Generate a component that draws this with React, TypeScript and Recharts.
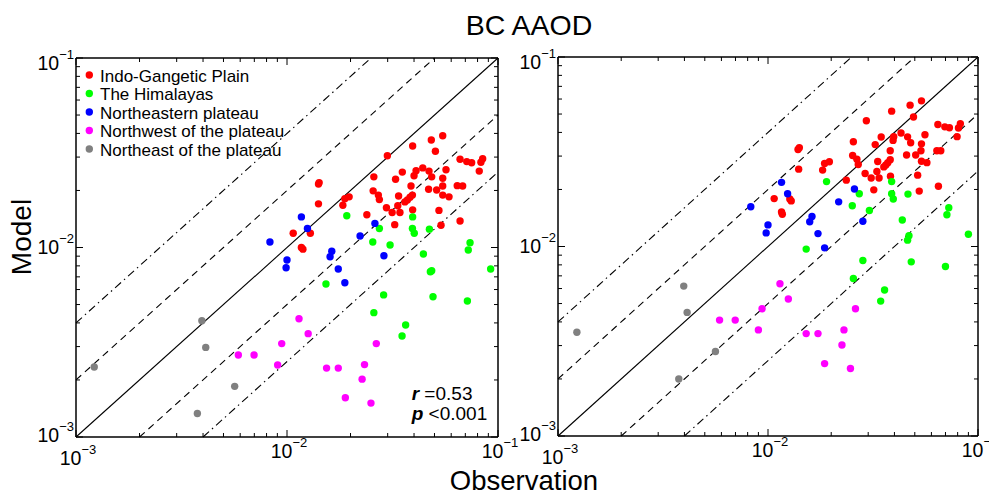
import React from 'react';
import { ScatterChart, Scatter, XAxis, YAxis, ReferenceLine } from 'recharts';

const FONT = '"Liberation Sans", Arial, Helvetica, sans-serif';

// ---------- tick values (log axes) ----------
const LOG_TICKS = [
  0.001, 0.002, 0.003, 0.004, 0.005, 0.006, 0.007, 0.008, 0.009,
  0.01, 0.02, 0.03, 0.04, 0.05, 0.06, 0.07, 0.08, 0.09, 0.1,
];
const DOMAIN: [number, number] = [0.001, 0.1];

// ---------- legend / series ----------
const seriesNames = [
  'Indo-Gangetic Plain',
  'The Himalayas',
  'Northeastern plateau',
  'Northwest of the plateau',
  'Northeast of the plateau',
];
const seriesColors = ['#ff0000', '#00ff00', '#0000ff', '#ff00ff', '#808080'];

// ---------- left panel: [observation, model] ----------
const igpA: [number, number][] = [
  [0.0547, 0.0389], [0.0483, 0.0369], [0.0394, 0.0343], [0.0505, 0.0322], [0.0299, 0.0305],
  [0.0661, 0.0292], [0.0711, 0.0284], [0.075, 0.028], [0.0846, 0.0294], [0.083, 0.0282],
  [0.0815, 0.0253], [0.044, 0.0263], [0.0409, 0.0254], [0.0471, 0.0253], [0.0567, 0.0257],
  [0.0352, 0.025], [0.04, 0.0239], [0.0485, 0.0236], [0.0547, 0.0232], [0.0327, 0.0229],
  [0.0258, 0.0236], [0.0142, 0.022], [0.0141, 0.0216], [0.0387, 0.0211], [0.0469, 0.0203],
  [0.0512, 0.0201], [0.0547, 0.0211], [0.0641, 0.0212], [0.068, 0.0211], [0.0256, 0.0199],
  [0.0271, 0.0189], [0.0274, 0.0179], [0.0338, 0.0187], [0.0393, 0.0189], [0.0383, 0.0184],
  [0.0372, 0.0178], [0.0362, 0.0174], [0.0547, 0.0189], [0.0586, 0.0185], [0.0197, 0.0185],
  [0.0188, 0.0181], [0.0184, 0.0167], [0.0141, 0.017], [0.0335, 0.0166], [0.0296, 0.0162],
  [0.0315, 0.0153], [0.0343, 0.0153], [0.0394, 0.0158], [0.0525, 0.0157], [0.0239, 0.0149],
  [0.0324, 0.0132], [0.0537, 0.0131], [0.0661, 0.0138], [0.0107, 0.0119], [0.0129, 0.0119],
  [0.0117, 0.01], [0.0119, 0.0098],
];
const himA: [number, number][] = [
  [0.0192, 0.0147], [0.0394, 0.0145], [0.0274, 0.0126], [0.0393, 0.0126], [0.0401, 0.0119],
  [0.0473, 0.0125], [0.0255, 0.0107], [0.0308, 0.0103], [0.0443, 0.00924], [0.0737, 0.0106],
  [0.0723, 0.0097], [0.0478, 0.00745], [0.0485, 0.00755], [0.0923, 0.0077], [0.0153, 0.00642],
  [0.0287, 0.00562], [0.0492, 0.0055], [0.0716, 0.00522], [0.0258, 0.00453], [0.0365, 0.0039],
  [0.0351, 0.00341],
];
const nepA: [number, number][] = [
  [0.0117, 0.0145], [0.0125, 0.0126], [0.0261, 0.0134], [0.0222, 0.0115], [0.0083, 0.0107],
  [0.01, 0.00859], [0.0099, 0.00782], [0.0163, 0.00955], [0.016, 0.00894], [0.0175, 0.0077],
  [0.0188, 0.00652], [0.0288, 0.00905],
];
const nwA: [number, number][] = [
  [0.00588, 0.00271], [0.00698, 0.00271], [0.0114, 0.00421], [0.0126, 0.00351], [0.00944, 0.00311],
  [0.00903, 0.0024], [0.0154, 0.00231], [0.0175, 0.00231], [0.0233, 0.00241], [0.0227, 0.00202],
  [0.0265, 0.00311], [0.0189, 0.00161], [0.025, 0.00151],
];
const neA: [number, number][] = [
  [0.00122, 0.00234], [0.00395, 0.00411], [0.00412, 0.00297], [0.00565, 0.00185], [0.00376, 0.00133],
];

// ---------- right panel: [observation, model] ----------
const igpB: [number, number][] = [
  [0.0538, 0.0587], [0.0475, 0.0557], [0.0388, 0.0518], [0.0493, 0.0482], [0.0294, 0.0461],
  [0.0644, 0.044], [0.0695, 0.0428], [0.0731, 0.0423], [0.0824, 0.0444], [0.0807, 0.0422],
  [0.0795, 0.038], [0.043, 0.0397], [0.0397, 0.038], [0.0462, 0.0379], [0.0559, 0.0389],
  [0.0346, 0.0378], [0.0394, 0.0363], [0.0478, 0.0353], [0.0538, 0.0348], [0.0255, 0.0357],
  [0.0324, 0.0345], [0.0141, 0.0332], [0.0139, 0.0325], [0.0382, 0.032], [0.0535, 0.032],
  [0.0637, 0.032], [0.0665, 0.032], [0.0457, 0.0304], [0.0505, 0.0304], [0.0253, 0.0302],
  [0.0265, 0.0289], [0.0269, 0.0271], [0.0333, 0.0281], [0.0382, 0.0287], [0.0372, 0.0277],
  [0.0364, 0.0269], [0.0356, 0.0263], [0.0538, 0.0282], [0.0571, 0.0277], [0.0196, 0.028],
  [0.0186, 0.0274], [0.0182, 0.0253], [0.014, 0.0256], [0.033, 0.0249], [0.029, 0.0243],
  [0.031, 0.023], [0.0338, 0.023], [0.0383, 0.0235], [0.0516, 0.0238], [0.0236, 0.0224],
  [0.0319, 0.0199], [0.0525, 0.0196], [0.0648, 0.0208], [0.0107, 0.0179], [0.0127, 0.0178],
  [0.0129, 0.0174], [0.0116, 0.0152], [0.0117, 0.0148],
];
const himB: [number, number][] = [
  [0.019, 0.022], [0.0388, 0.022], [0.0272, 0.019], [0.0388, 0.019], [0.0395, 0.0178],
  [0.0464, 0.0189], [0.0252, 0.0164], [0.0304, 0.0155], [0.0726, 0.016], [0.0711, 0.0147],
  [0.0436, 0.0138], [0.0469, 0.0114], [0.0462, 0.0108], [0.09, 0.0116], [0.0152, 0.00969],
  [0.0283, 0.00844], [0.0481, 0.0083], [0.07, 0.00784], [0.0255, 0.00678], [0.0359, 0.00589],
  [0.0344, 0.00515],
];
const nepB: [number, number][] = [
  [0.0116, 0.0218], [0.0124, 0.019], [0.0258, 0.0201], [0.0217, 0.0172], [0.00828, 0.0162],
  [0.0162, 0.0144], [0.0158, 0.0135], [0.0283, 0.0136], [0.01, 0.013], [0.0098, 0.0118],
  [0.0173, 0.0117], [0.0186, 0.00984],
];
const nwB: [number, number][] = [
  [0.00588, 0.00409], [0.00698, 0.00409], [0.0114, 0.00636], [0.0125, 0.00528], [0.00937, 0.00469],
  [0.009, 0.00363], [0.0152, 0.00347], [0.0173, 0.00347], [0.023, 0.00363], [0.0261, 0.00469],
  [0.0225, 0.00302], [0.0186, 0.00241], [0.0247, 0.00227],
];
const neB: [number, number][] = [
  [0.00123, 0.00353], [0.00397, 0.00618], [0.00412, 0.00449], [0.00562, 0.00279], [0.00376, 0.002],
];

// ratio lines: model = factor * observation
const ratioFactors = [1, 2, 0.5, 4, 0.25];

const toPts = (arr: [number, number][]) => arr.map(([x, y]) => ({ x, y }));

const isMajor = (v: number) => Math.abs(Math.log10(v) - Math.round(Math.log10(v))) < 1e-6;
const expOf = (v: number) => Math.round(Math.log10(v));
const supText = (e: number) => (e < 0 ? '\u2212' : '') + Math.abs(e);

const TICK_FS = 19.5;
const SUP_FS = 13;

const BottomTick = (props: any) => {
  const { x, y, payload } = props;
  const v = payload.value;
  const major = isMajor(v);
  const e = expOf(v);
  return (
    <g>
      <line x1={x} x2={x} y1={y} y2={y - (major ? 7 : 4)} stroke="#000" strokeWidth={1} />
      {major && (
        <text x={x + 2} y={y + (e === -3 ? 28 : 20.5)} textAnchor="middle" fontSize={TICK_FS} fontFamily={FONT} fill="#000">
          10<tspan dy={-11} fontSize={SUP_FS}>{supText(e)}</tspan>
        </text>
      )}
    </g>
  );
};
const TopTick = (props: any) => {
  const { x, y, payload } = props;
  const major = isMajor(payload.value);
  return <line x1={x} x2={x} y1={y} y2={y + (major ? 7 : 4)} stroke="#000" strokeWidth={1} />;
};
const LeftTick = (props: any) => {
  const { x, y, payload } = props;
  const v = payload.value;
  const major = isMajor(v);
  const e = expOf(v);
  const off = e === -1 ? 11.5 : e === -2 ? 6 : 5;
  return (
    <g>
      <line x1={x} x2={x + (major ? 7 : 4)} y1={y} y2={y} stroke="#000" strokeWidth={1} />
      {major && (
        <text x={x - 2} y={y + off} textAnchor="end" fontSize={TICK_FS} fontFamily={FONT} fill="#000">
          10<tspan dy={-11} fontSize={SUP_FS}>{supText(e)}</tspan>
        </text>
      )}
    </g>
  );
};
const RightTick = (props: any) => {
  const { x, y, payload } = props;
  const major = isMajor(payload.value);
  return <line x1={x - (major ? 7 : 4)} x2={x} y1={y} y2={y} stroke="#000" strokeWidth={1} />;
};

const dot = (color: string) => (p: any) => <circle cx={p.cx} cy={p.cy} r={3.7} fill={color} stroke="none" />;

const lineStyle = (f: number) =>
  f === 1 ? undefined : f === 2 || f === 0.5 ? '7 5' : '8 4 1.5 4';

const Panel = ({ groups, width, margin }: { groups: [number, number][][]; width: number; margin: any }) => (
  <ScatterChart width={width} height={495} margin={margin}>
    <XAxis xAxisId="b" dataKey="x" type="number" scale="log" domain={DOMAIN} allowDataOverflow ticks={LOG_TICKS}
      orientation="bottom" height={30} tickSize={0} tickMargin={0} tickLine={false} interval={0}
      axisLine={{ stroke: '#000', strokeWidth: 1.5 }} tick={(p: any) => <BottomTick {...p} />} />
    <XAxis xAxisId="t" dataKey="x" type="number" scale="log" domain={DOMAIN} allowDataOverflow ticks={LOG_TICKS}
      orientation="top" height={10} tickSize={0} tickMargin={0} tickLine={false} interval={0}
      axisLine={{ stroke: '#000', strokeWidth: 1.5 }} tick={(p: any) => <TopTick {...p} />} />
    <YAxis yAxisId="l" dataKey="y" type="number" scale="log" domain={DOMAIN} allowDataOverflow ticks={LOG_TICKS}
      orientation="left" width={40} tickSize={0} tickMargin={0} tickLine={false} interval={0}
      axisLine={{ stroke: '#000', strokeWidth: 1.5 }} tick={(p: any) => <LeftTick {...p} />} />
    <YAxis yAxisId="r" dataKey="y" type="number" scale="log" domain={DOMAIN} allowDataOverflow ticks={LOG_TICKS}
      orientation="right" width={10} tickSize={0} tickMargin={0} tickLine={false} interval={0}
      axisLine={{ stroke: '#000', strokeWidth: 1.5 }} tick={(p: any) => <RightTick {...p} />} />
    {ratioFactors.map((f) => {
      const x0 = f >= 1 ? 0.001 : 0.001 / f;
      const x1 = f >= 1 ? 0.1 / f : 0.1;
      return (
        <ReferenceLine key={f} xAxisId="b" yAxisId="l" ifOverflow="visible"
          segment={[{ x: x0, y: x0 * f }, { x: x1, y: x1 * f }]}
          stroke="#000" strokeWidth={1.1} strokeDasharray={lineStyle(f)} />
      );
    })}
    {groups.map((g, i) => (
      <Scatter key={i} xAxisId="b" yAxisId="l" name={seriesNames[i]} data={toPts(g)}
        fill={seriesColors[i]} shape={dot(seriesColors[i])} isAnimationActive={false} />
    ))}
  </ScatterChart>
);

export default function App() {
  return (
    <div style={{ position: 'absolute', left: 0, top: 0, width: 989, height: 495, overflow: 'hidden', background: '#fff', fontFamily: FONT }}>
      <div style={{ position: 'absolute', left: 0, top: 0 }}>
        <Panel groups={[igpA, himA, nepA, nwA, neA]} width={520} margin={{ top: 48, right: 12, bottom: 28, left: 36 }} />
      </div>
      <div style={{ position: 'absolute', left: 500, top: 0 }}>
        <Panel groups={[igpB, himB, nepB, nwB, neB]} width={489} margin={{ top: 47, right: 1, bottom: 29, left: 18 }} />
      </div>
      <svg width={989} height={495} style={{ position: 'absolute', left: 0, top: 0, pointerEvents: 'none' }}>
        <text x={529} y={35} textAnchor="middle" fontSize={28.5} fontFamily={FONT} fill="#000">BC AAOD</text>
        <text x={524} y={490} textAnchor="middle" fontSize={27.5} fontFamily={FONT} fill="#000">Observation</text>
        <text transform="translate(31,237) rotate(-90)" textAnchor="middle" fontSize={28} fontFamily={FONT} fill="#000">Model</text>
        {seriesNames.map((n, i) => (
          <g key={n}>
            <circle cx={89.3} cy={75 + i * 18.5} r={3.7} fill={seriesColors[i]} />
            <text x={100} y={75 + i * 18.5 + 6.5} fontSize={17} fontFamily={FONT} fill="#000">{n}</text>
          </g>
        ))}
        <text x={411.7} y={399.5} fontSize={19} fontFamily={FONT} fill="#000" style={{ whiteSpace: 'pre' }}>
          <tspan fontWeight="bold" fontStyle="italic">r</tspan> =0.53
        </text>
        <text x={411.7} y={420} fontSize={19} fontFamily={FONT} fill="#000" style={{ whiteSpace: 'pre' }}>
          <tspan fontWeight="bold" fontStyle="italic">p</tspan> {'<0.001'}
        </text>
      </svg>
    </div>
  );
}
